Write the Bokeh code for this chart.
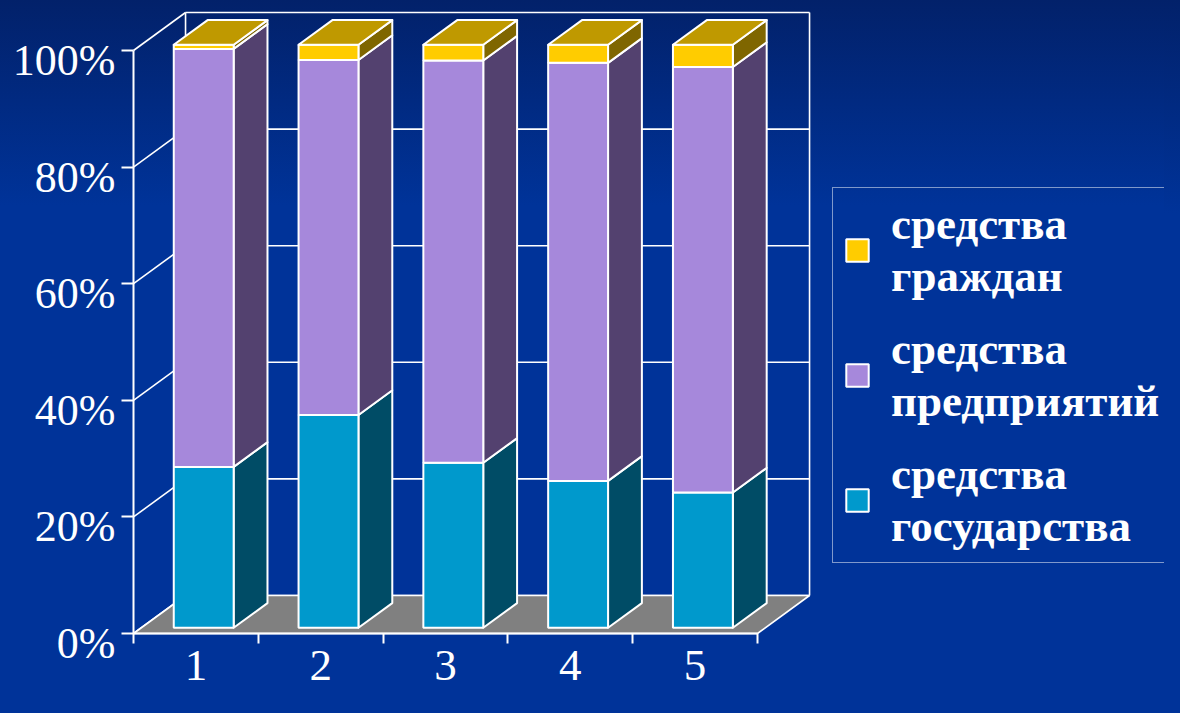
import numpy as np
from bokeh.plotting import figure
from bokeh.models import (Range1d, LinearAxis, FixedTicker, PrintfTickFormatter,
                          Legend, LegendItem, GlobalInlineStyleSheet)
from bokeh.embed import file_html
from bokeh.resources import INLINE

# ---------------- data ----------------
categories = ["1", "2", "3", "4", "5"]
gosudarstvo = [27.6, 36.5, 28.3, 25.2, 23.2]      # средства государства
predpriyatiya = [71.7, 60.9, 69.0, 71.7, 73.0]    # средства предприятий
grazhdane = [0.7, 2.6, 2.7, 3.1, 3.8]             # средства граждан
series_labels = ["средства\nгосударства", "средства\nпредприятий", "средства\nграждан"]
y_ticks = [0, 20, 40, 60, 80, 100]

# ---------------- styling / 3D geometry ----------------
front_colors = ["#0099CC", "#A688DB", "#FFCC00"]
side_colors = ["#004C66", "#53416F", "#7F6600"]
top_color = "#BF9900"
DX, DY = 0.417, 6.52        # depth of the 3D box in data units
F0, F1 = 0.15, 0.80         # bar depth (front / back fraction)
HW = 0.24                   # half bar width
LABEL_SHIFT = 1.715         # y tick labels sit slightly below their ticks

W, H = 1164, 697
Y0, Y1 = -10.978, 108.576
p = figure(width=W, height=H, output_backend="svg", toolbar_location=None,
           x_range=Range1d(-1.06571, 8.26122), y_range=Range1d(Y0, Y1),
           min_border=0, x_axis_type=None, y_axis_type=None)
p.extra_y_ranges = {"labels": Range1d(Y0 + LABEL_SHIFT, Y1 + LABEL_SHIFT)}
p.background_fill_color = None
p.border_fill_color = None
p.outline_line_color = None
p.xgrid.visible = False
p.ygrid.visible = False
p.styles = {"background": "linear-gradient(180deg, #02216a 0px, #003399 205px, #003399 100%)"}
p.stylesheets = [GlobalInlineStyleSheet(css="html, body { background: linear-gradient(180deg, #02216a 0px, #003399 213px, #003399 100%) no-repeat; background-color: #003399; }")]

n = len(categories)
ncat = float(n)

# back wall gridlines and diagonals
gx0 = [DX] * len(y_ticks)
gx1 = [ncat + DX] * len(y_ticks)
gy = [v + DY for v in y_ticks]
p.segment(x0=gx0, y0=gy, x1=gx1, y1=gy, line_color="white", line_width=1.6)
p.segment(x0=[0] * len(y_ticks), y0=y_ticks, x1=gx0, y1=gy, line_color="white", line_width=1.6)
p.segment(x0=[DX, ncat + DX], y0=[DY, DY], x1=[DX, ncat + DX],
          y1=[y_ticks[-1] + DY, y_ticks[-1] + DY], line_color="white", line_width=1.6)

# floor
p.patch(x=[0, ncat, ncat + DX, DX], y=[0, 0, DY, DY], fill_color="#808080",
        line_color="white", line_width=1.6)

# bars
gos = np.array(gosudarstvo)
pre = np.array(predpriyatiya)
grz = np.array(grazhdane)
bottoms = [np.zeros(n), gos, gos + pre]
tops = [gos, gos + pre, gos + pre + grz]
xc = np.arange(n) + 0.5
xl = xc - HW + F0 * DX
xr = xc + HW + F0 * DX
dd = (F1 - F0) * DX

front_renderers = []
for s in range(3):
    b, t = bottoms[s], tops[s]
    side_xs = [[xr[i], xr[i] + dd, xr[i] + dd, xr[i]] for i in range(n)]
    side_ys = [[b[i] + F0 * DY, b[i] + F1 * DY, t[i] + F1 * DY, t[i] + F0 * DY] for i in range(n)]
    p.patches(xs=side_xs, ys=side_ys, fill_color=side_colors[s], line_color="white",
              line_width=2, line_join="round")
    r = p.quad(left=xl, right=xr, bottom=b + F0 * DY, top=t + F0 * DY,
               fill_color=front_colors[s], line_color="white", line_width=2)
    front_renderers.append(r)

t = tops[-1]
top_xs = [[xl[i], xr[i], xr[i] + dd, xl[i] + dd] for i in range(n)]
top_ys = [[t[i] + F0 * DY, t[i] + F0 * DY, t[i] + F1 * DY, t[i] + F1 * DY] for i in range(n)]
p.patches(xs=top_xs, ys=top_ys, fill_color=top_color, line_color="white", line_width=2,
          line_join="round")

# y axis: line and ticks
yax = LinearAxis(fixed_location=0, bounds=(0, 100),
                 ticker=FixedTicker(ticks=y_ticks, minor_ticks=[]),
                 major_label_overrides={v: "" for v in y_ticks})
yax.axis_line_color = "white"
yax.axis_line_width = 2
yax.major_tick_out = 12
yax.major_tick_in = 0
yax.major_tick_line_color = "white"
yax.major_tick_line_width = 2
yax.minor_tick_line_color = None
p.add_layout(yax, "left")

# y axis: tick labels
ylab = LinearAxis(fixed_location=0, y_range_name="labels",
                  ticker=FixedTicker(ticks=y_ticks, minor_ticks=[]),
                  formatter=PrintfTickFormatter(format="%d%%"))
ylab.axis_line_color = None
ylab.major_tick_line_color = None
ylab.minor_tick_line_color = None
ylab.major_tick_out = 12
ylab.major_tick_in = 0
ylab.major_label_text_color = "white"
ylab.major_label_text_font = "Liberation Serif"
ylab.major_label_text_font_size = "44px"
ylab.major_label_standoff = 6
p.add_layout(ylab, "left")

centers = [i + 0.5 for i in range(n)]
xax = LinearAxis(fixed_location=0, bounds=(0, ncat),
                 ticker=FixedTicker(ticks=centers, minor_ticks=list(range(n + 1))),
                 major_label_overrides={c: lab for c, lab in zip(centers, categories)})
xax.axis_line_color = "white"
xax.axis_line_width = 2
xax.major_tick_line_color = None
xax.major_tick_out = 0
xax.major_tick_in = 0
xax.minor_tick_line_color = "white"
xax.minor_tick_line_width = 2
xax.minor_tick_out = 10
xax.minor_tick_in = 0
xax.major_label_text_color = "white"
xax.major_label_text_font = "Liberation Serif"
xax.major_label_text_font_size = "45px"
xax.major_label_standoff = 8
p.add_layout(xax, "below")

legend = Legend(items=[LegendItem(label=series_labels[2], renderers=[front_renderers[2]]),
                       LegendItem(label=series_labels[1], renderers=[front_renderers[1]]),
                       LegendItem(label=series_labels[0], renderers=[front_renderers[0]])],
                location=(832, 134))
legend.border_line_color = "white"
legend.border_line_width = 1.5
legend.background_fill_alpha = 0
legend.label_text_color = "white"
legend.label_text_font = "Liberation Serif"
legend.label_text_font_style = "bold"
legend.label_text_font_size = "45px"
legend.label_text_line_height = 1.27
legend.label_width = 300
legend.glyph_width = 28
legend.glyph_height = 28
legend.label_standoff = 20
legend.padding = 10
legend.spacing = 21
legend.margin = 0
p.add_layout(legend)

open("out.html", "w").write(file_html(p, INLINE))
